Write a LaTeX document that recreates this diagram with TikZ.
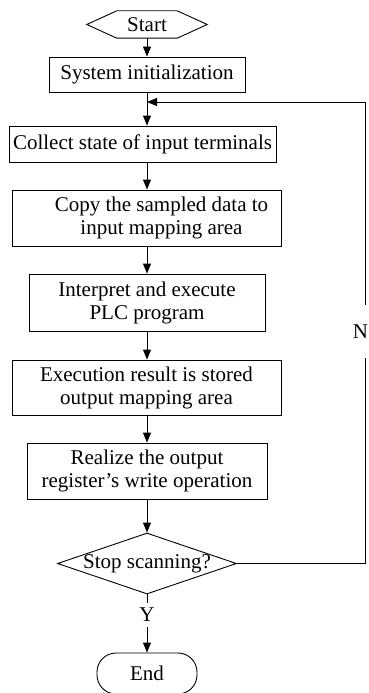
\documentclass[tikz,border=0pt]{standalone}
\usepackage{fontspec}
\setmainfont{Liberation Serif}
\usetikzlibrary{arrows.meta,shapes.geometric,calc}
\begin{document}
\begin{tikzpicture}[x=1pt,y=-1pt,
  every node/.style={font=\fontsize{21}{23}\selectfont, inner sep=0pt},
  procbox/.style={draw, line width=0.9pt, align=center},
  arr/.style={line width=0.9pt, -{Triangle[length=10pt,width=8pt]}},
  conn/.style={line width=0.9pt}]
\useasboundingbox (0,0) rectangle (369,693);
% terminal
\node[minimum width=120pt, minimum height=27pt] (start) at (147,24.5) {Start};
\draw[conn] (start.west) -- ($(start.north west)+(30pt,0)$) -- ($(start.north east)+(-30pt,0)$) -- (start.east) -- ($(start.south east)+(-30pt,0)$) -- ($(start.south west)+(30pt,0)$) -- cycle;
% process boxes
\node[procbox, minimum width=196pt, minimum height=35pt] (sys) at (147,74.5) {System initialization};
\node[procbox, minimum width=267pt, minimum height=36pt] (coll) at (142.5,144) {Collect state of input terminals};
\node[procbox, minimum width=269pt, minimum height=56pt] (copy) at (146.5,218) {\hspace*{30pt}Copy the sampled data to\\\hspace*{30pt}input mapping area};
\node[procbox, minimum width=236pt, minimum height=57pt] (interp) at (147,302.5) {Interpret and execute\\PLC program};
\node[procbox, minimum width=269pt, minimum height=55pt] (exec) at (146.5,387.5) {Execution result is stored\\output mapping area};
\node[procbox, minimum width=240pt, minimum height=56pt] (real) at (147,471) {Realize the output\\register's write operation};
\node[draw, diamond, line width=0.9pt, minimum width=179pt, minimum height=61pt] (dec) at (147,563.5) {\makebox[0pt]{Stop scanning?}};
\node[minimum height=24pt] (Y) at (147,615) {Y};
\node[draw, line width=0.9pt, rounded corners=19pt, minimum width=100pt, minimum height=41pt] (end) at (147,673.5) {End};
\node[minimum height=53pt] (N) at (360.5,331.5) {N};
\coordinate (nbot) at ($(N.south)+(4.5pt,0)$);
\coordinate (ntop) at ($(N.north)+(4.5pt,0)$);
\coordinate (join) at (147,102);
% connectors
\draw[arr] (start.south) -- (sys.north);
\draw[arr] (sys.south) -- (sys.south |- coll.north);
\draw[arr] (sys.south |- coll.south) -- (sys.south |- copy.north);
\draw[arr] (sys.south |- copy.south) -- (interp.north);
\draw[arr] (interp.south) -- (interp.south |- exec.north);
\draw[arr] (interp.south |- exec.south) -- (real.north);
\draw[arr] (real.south) -- (dec.north);
\draw[conn] (dec.south) -- (Y.north);
\draw[arr] (Y.south) -- (end.north);
\draw[conn] (dec.east) -| (nbot);
\draw[arr] (ntop) |- (join);
\end{tikzpicture}
\end{document}
